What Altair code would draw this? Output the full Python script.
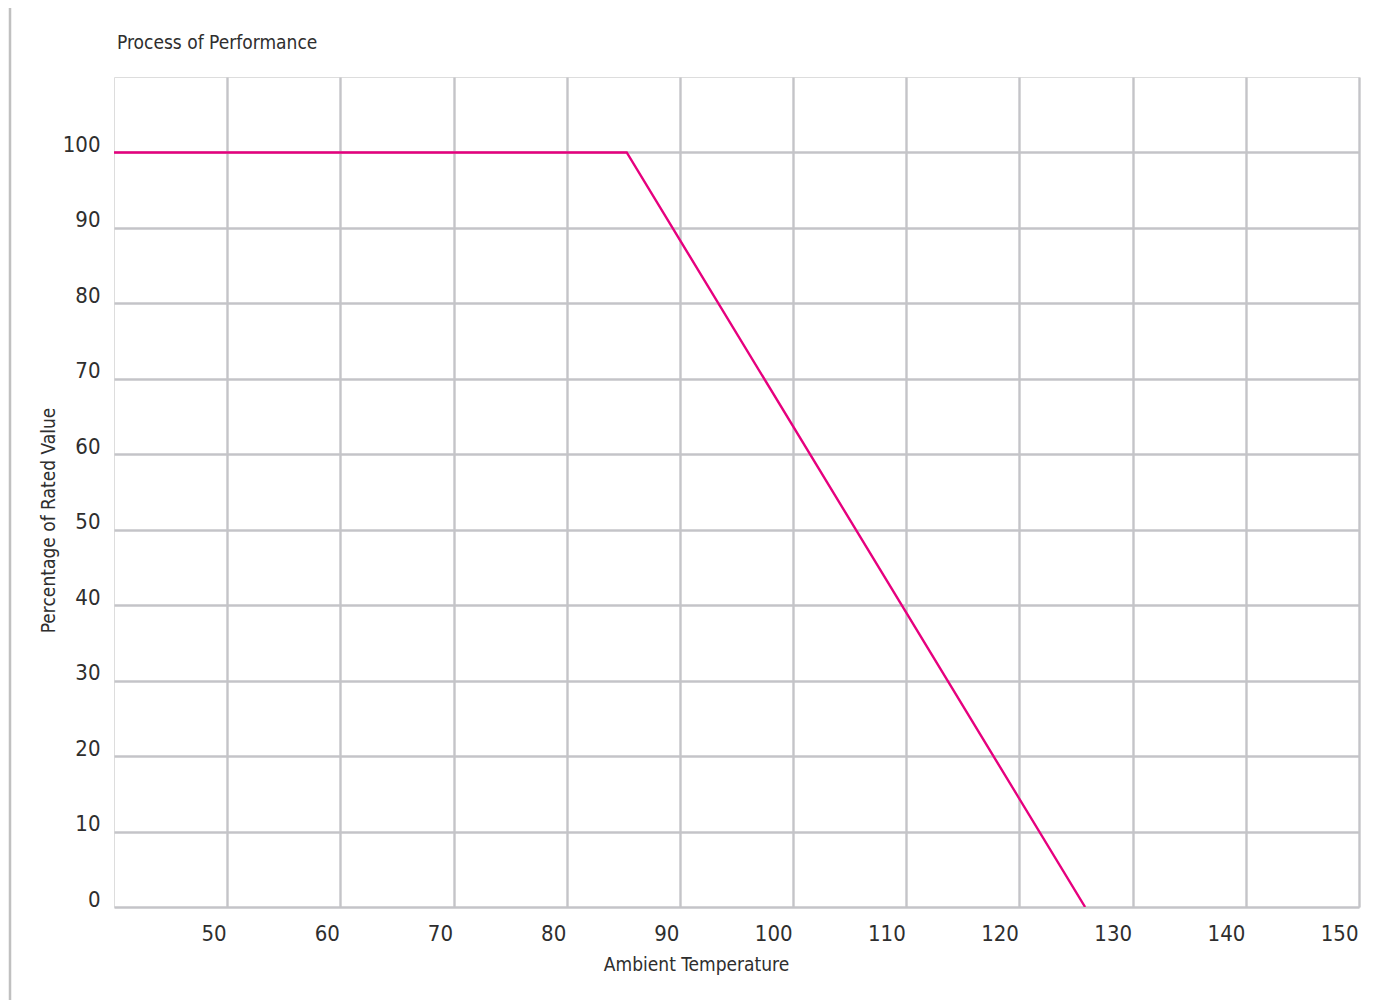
import altair as alt
import pandas as pd

# Data
temperature = [40, 85.3, 125.8]
percentage = [100, 100, 0]

x_ticks = [50, 60, 70, 80, 90, 100, 110, 120, 130, 140, 150]
y_ticks = [0, 10, 20, 30, 40, 50, 60, 70, 80, 90, 100]

df = pd.DataFrame({"temp": temperature, "pct": percentage})

FONT = "'DejaVu Sans Condensed', 'Liberation Sans Narrow', 'Roboto Condensed', Roboto, sans-serif"
LFS = 22
TFS = 19
TXT = "#2e2e2e"
GRID = "#c4c4c8"

line = alt.Chart(df).mark_line(color="#e6007e", strokeWidth=2.4, clip=True).encode(
    x=alt.X(
        "temp:Q",
        scale=alt.Scale(domain=[40, 150], nice=False, zero=False),
        axis=alt.Axis(
            values=x_ticks,
            title="Ambient Temperature",
            grid=True,
            gridColor=GRID,
            gridWidth=2.4,
            ticks=False,
            domain=False,
            labelAlign="right",
            labelBaseline="alphabetic",
            labelPadding=33,
            labelOffset=-1,
            labelFont=FONT,
            labelFontSize=LFS,
            labelColor=TXT,
            titleFont=FONT,
            titleFontSize=TFS,
            titleFontWeight="normal",
            titleColor=TXT,
            titleBaseline="alphabetic",
            titleAlign="center",
            titleX=582,
            titleY=63,
        ),
    ),
    y=alt.Y(
        "pct:Q",
        scale=alt.Scale(domain=[0, 110], nice=False),
        axis=alt.Axis(
            values=y_ticks,
            title="Percentage of Rated Value",
            grid=True,
            gridColor=GRID,
            gridWidth=2.4,
            ticks=False,
            domain=False,
            labelAlign="right",
            labelBaseline="alphabetic",
            labelPadding=14,
            labelOffset=-1,
            labelFont=FONT,
            labelFontSize=LFS,
            labelColor=TXT,
            titleFont=FONT,
            titleFontSize=TFS,
            titleFontWeight="normal",
            titleColor=TXT,
            titleAngle=-90,
            titleBaseline="alphabetic",
            titleAlign="center",
            titleX=-60,
            titleY=443,
        ),
    ),
)

frame = alt.Chart(pd.DataFrame({"a": [0]})).mark_rule(
    color="#c0c0c0", strokeWidth=2.5
).encode(x=alt.value(-104), y=alt.value(-80), y2=alt.value(1000))

chart = alt.layer(frame, line).properties(
    width=1245,
    height=830,
    autosize=alt.AutoSizeParams(type="none"),
    padding={"left": 106, "top": 69, "right": 26, "bottom": 93},
    title=alt.TitleParams(
        "Process of Performance",
        anchor="start",
        frame="group",
        font=FONT,
        fontSize=TFS,
        fontWeight="normal",
        color=TXT,
        baseline="alphabetic",
        offset=0,
        dx=3,
        dy=72,
    ),
).configure_view(stroke=GRID, strokeWidth=2.6).configure(background="white")

chart.save("out.html", embed_options={"renderer": "svg", "actions": False})
